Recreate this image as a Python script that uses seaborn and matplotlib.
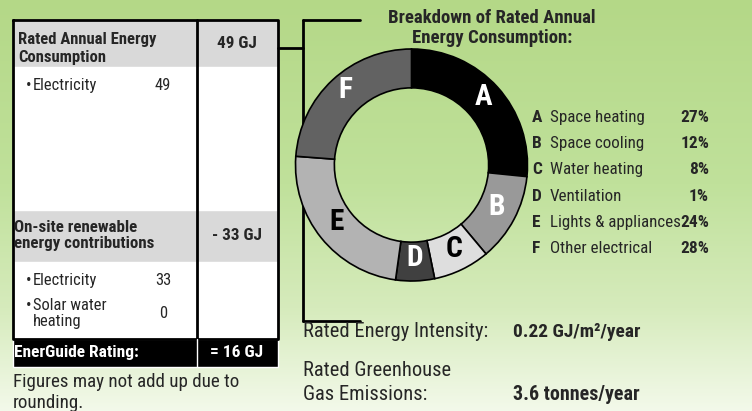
import numpy as np
import matplotlib.pyplot as plt
import seaborn as sns
from matplotlib.patches import Rectangle
from matplotlib import font_manager as fm

# Breakdown of rated annual energy consumption
letters = ['A', 'B', 'C', 'D', 'E', 'F']
end_uses = ['Space heating', 'Space cooling', 'Water heating', 'Ventilation',
            'Lights & appliances', 'Other electrical']
shares = [27, 12, 8, 1, 24, 28]
# slice sizes as drawn in the ring (the tiny slice is enlarged in the label)
drawn_shares = [26.6, 12.3, 7.9, 5.4, 24, 23.8]

# Table values (GJ)
consumption_total = 49
consumption_items = ['Electricity']
consumption_values = [49]
renewable_total = 33
renewable_items = [['Electricity'], ['Solar water', 'heating']]
renewable_values = [33, 0]
rating = 16

intensity = 0.22
ghg = 3.6

sns.set_theme(style='white')


# pick narrow fonts for regular and bold text
def wnum(w):
    return w if isinstance(w, (int, float)) else fm.weight_dict.get(w, 400)


fams = {}
for f in fm.fontManager.ttflist:
    if ('Narrow' in f.name or 'Condensed' in f.name) and 'Mono' not in f.name \
            and 'Serif' not in f.name and 'Light' not in f.name:
        fams.setdefault(f.name, set()).add(wnum(f.weight))
reg_family, bold_family = 'Liberation Sans', 'Liberation Sans'
with_bold = [n for n, ws in fams.items() if max(ws) >= 600]
with_reg = [n for n, ws in fams.items() if 400 in ws or 'normal' in ws]
for pref in ['Liberation Sans Narrow', 'Arial Narrow', 'Roboto Condensed']:
    if pref in with_bold:
        bold_family = pref
        break
else:
    if with_bold:
        bold_family = with_bold[0]
for pref in [bold_family, 'Liberation Sans Narrow', 'Arial Narrow', 'Roboto Condensed']:
    if pref in with_reg:
        reg_family = pref
        break
else:
    if with_reg:
        reg_family = with_reg[0]
plt.rcParams['font.family'] = [reg_family, 'Liberation Sans', 'DejaVu Sans']

W, H = 752, 411
fig = plt.figure(figsize=(W / 100, H / 100), dpi=100)

# Full-figure axes in pixel coordinates
ax = fig.add_axes([0, 0, 1, 1])
ax.set_xlim(0, W)
ax.set_ylim(H, 0)
ax.axis('off')

# scale font sizes so text widths match the reference
renderer = fig.canvas.get_renderer()
probe = ax.text(0, 0, 'Rated Energy Intensity:', fontsize=14, family=[reg_family])
k_reg = np.clip(186 / probe.get_window_extent(renderer).width, 0.75, 1.2)
probe.remove()
probe = ax.text(0, 0, 'Breakdown of Rated Annual', fontsize=14, fontweight='bold',
                family=[bold_family])
k_bold = np.clip(208 / probe.get_window_extent(renderer).width, 0.75, 1.2)
probe.remove()


def txt(x, y, s, size, bold=False, **kw):
    kw.setdefault('va', 'baseline')
    kw.setdefault('zorder', 4)
    if bold:
        return ax.text(x, y, s, fontsize=size * k_bold, fontweight='bold',
                       family=[bold_family, 'DejaVu Sans'], **kw)
    return ax.text(x, y, s, fontsize=size * k_reg, family=[reg_family, 'DejaVu Sans'], **kw)


# Background gradient, green to pale
stops = [0, 0.45, 0.75, 1.0]
cols = np.array([[180, 216, 135], [192, 225, 155], [214, 235, 188], [243, 249, 234]]) / 255
t = np.linspace(0, 1, H)
grad = np.stack([np.interp(t, stops, cols[:, i]) for i in range(3)], axis=1)
ax.imshow(grad[:, None, :], extent=[0, W, H, 0], aspect='auto', zorder=0)

# ---- Table ----
L, M, R = 13, 197, 278
top, body1, hdr2, body2, black_top, black_bot = 20, 67, 210, 262, 339, 367
ax.add_patch(Rectangle((L, top), R - L, black_top - top, facecolor='white', zorder=1))
ax.add_patch(Rectangle((L, top), R - L, body1 - top, facecolor='#d9d9d9', zorder=1))
ax.add_patch(Rectangle((L, hdr2), R - L, body2 - hdr2, facecolor='#d9d9d9', zorder=1))
ax.add_patch(Rectangle((L, black_top), R - L, black_bot - black_top, facecolor='black', zorder=1))
ax.plot([L, R, R, L, L], [top, top, black_top, black_top, top], color='black', lw=2, zorder=3)
ax.plot([M, M], [top, black_top], color='black', lw=2, zorder=3)
ax.plot([M, M], [black_top, black_bot], color='white', lw=1, zorder=3)

txt(18, 44, 'Rated Annual Energy', 12.4, True)
txt(18, 62, 'Consumption', 12.4, True)
txt(237, 48, f'{consumption_total} GJ', 12.8, True, ha='center')
for i, (item, v) in enumerate(zip(consumption_items, consumption_values)):
    txt(26, 90 + i * 25, '\u2022', 11)
    txt(33, 90 + i * 25, item, 11.3)
    txt(163, 90 + i * 25, str(v), 11.3, ha='center')

txt(14, 232, 'On-site renewable', 12.6, True)
txt(14, 248, 'energy contributions', 12.6, True)
txt(237, 240, f'- {renewable_total} GJ', 12.8, True, ha='center')
item_y = [285, 310]
value_y = [285, 318]
for lines, v, yi, yv in zip(renewable_items, renewable_values, item_y, value_y):
    txt(26, yi, '\u2022', 11)
    for j, line in enumerate(lines):
        txt(33, yi + j * 16, line, 11.3)
    txt(163, yv, str(v), 11.3, ha='center')

txt(14, 357, 'EnerGuide Rating:', 13, True, color='white')
txt(237, 357, f'= {rating} GJ', 13, True, ha='center', color='white')
txt(13, 387, 'Figures may not add up due to', 13)
txt(13, 408, 'rounding.', 13)

# ---- Connector bracket ----
ax.plot([R, 303], [48, 48], color='black', lw=2, zorder=2)
ax.plot([303, 303], [20, 321], color='black', lw=2, zorder=2)
ax.plot([303, 360], [20, 20], color='black', lw=2, zorder=2)
ax.plot([303, 360], [321, 321], color='black', lw=2, zorder=2)

# ---- Title ----
txt(492, 23, 'Breakdown of Rated Annual', 14, True, ha='center')
txt(492, 43, 'Energy Consumption:', 14, True, ha='center')

# ---- Legend ----
for i, (lt, name, s) in enumerate(zip(letters, end_uses, shares)):
    y = 122 + i * 26.2
    txt(532, y, lt, 13, True)
    txt(550, y, name, 11.6)
    txt(709, y, f'{s}%', 13, True, ha='right')

# ---- Bottom metrics ----
txt(303, 337, 'Rated Energy Intensity:', 14)
txt(513, 337, f'{intensity} GJ/m\u00b2/year', 14.5, True)
txt(303, 376, 'Rated Greenhouse', 14)
txt(303, 400, 'Gas Emissions:', 14)
txt(513, 400, f'{ghg} tonnes/year', 15, True)

# ---- Donut ----
cx, cy, rad = 411.5, 165, 116
lim = 1.02
ext = rad * lim
ax_pie = fig.add_axes([(cx - ext) / W, 1 - (cy + ext) / H, 2 * ext / W, 2 * ext / H])
ax_pie.set_facecolor('none')
wedge_colors = ['#000000', '#999999', '#dedede', '#404040', '#b3b3b3', '#626262']
label_colors = ['white', 'white', 'black', 'white', 'black', 'white']
ax_pie.pie(drawn_shares, colors=wedge_colors, startangle=90, counterclock=False, radius=1,
           wedgeprops=dict(width=0.335, edgecolor='black', linewidth=1.2))
ax_pie.set_xlim(-lim, lim)
ax_pie.set_ylim(-lim, lim)
ax_pie.set_aspect('auto')
ax_pie.axis('off')

total = sum(drawn_shares)
cum = 0
for lt, s, c in zip(letters, drawn_shares, label_colors):
    theta = np.deg2rad(90 - 360 * (cum + s / 2) / total)
    cum += s
    ax_pie.text(0.835 * np.cos(theta), 0.835 * np.sin(theta) + 0.03, lt, color=c,
                fontsize=22 * k_bold, fontweight='bold', family=[bold_family, 'DejaVu Sans'],
                ha='center', va='center')

fig.savefig('out.png', dpi=100)
